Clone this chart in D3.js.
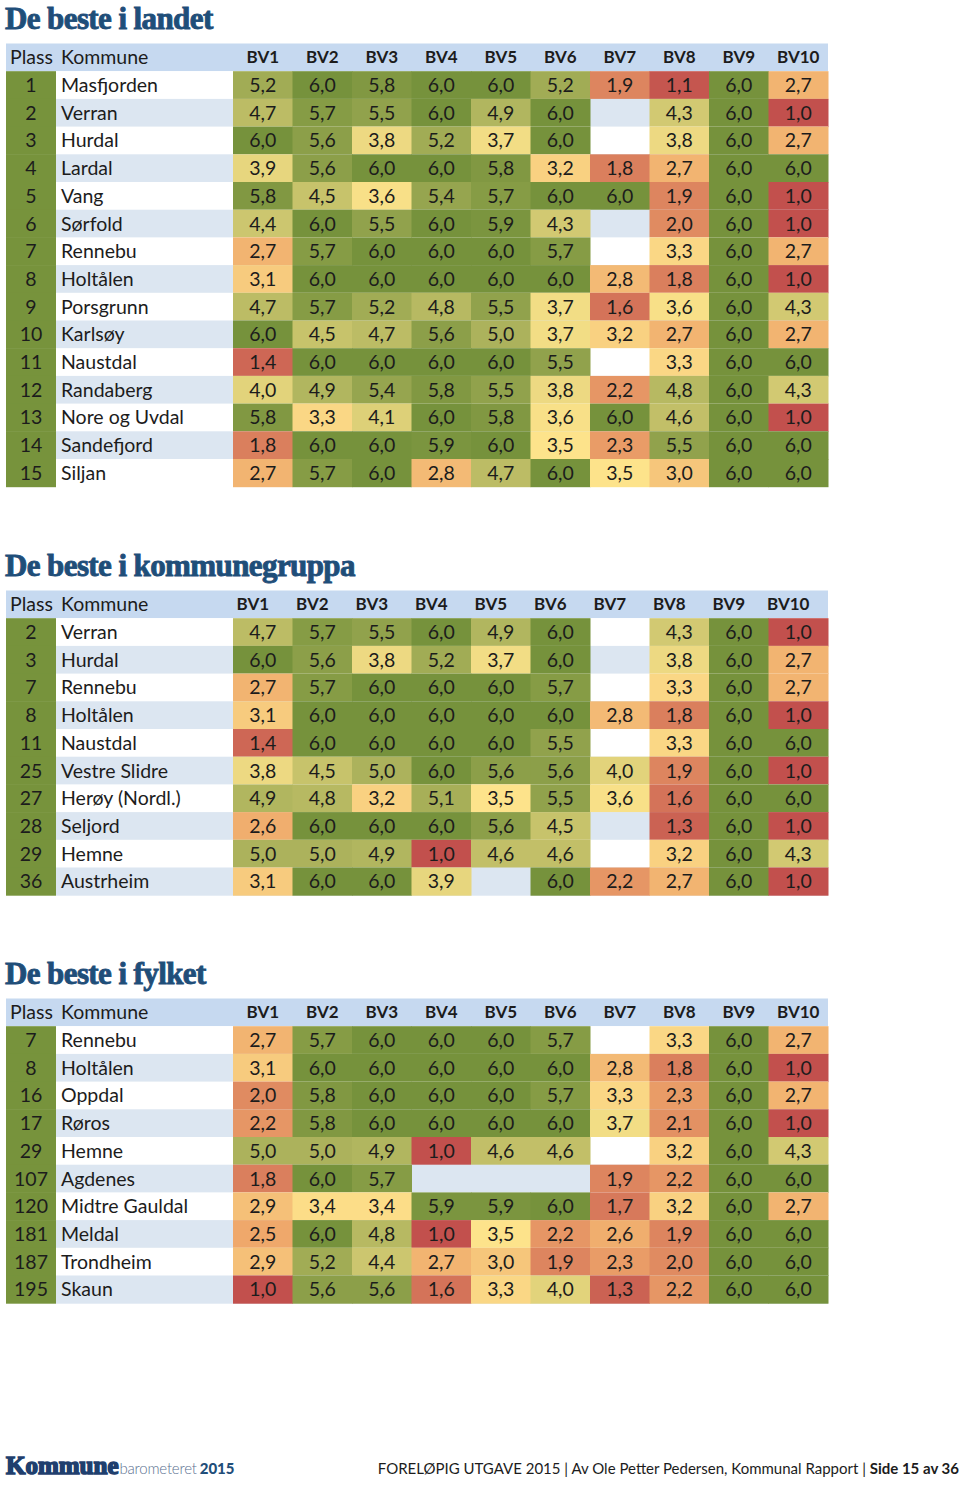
<!DOCTYPE html>
<html>
<head>
<meta charset="utf-8">
<script src="https://cdn.jsdelivr.net/npm/d3@7"></script>
<style>
  body { margin: 0; background: #fff; }
  svg text { font-family: Lato, "Open Sans", sans-serif; fill: #1c1c1c; }
  .title { font-family: "Liberation Serif", "DejaVu Serif", serif; font-weight: bold; fill: #1f4e79; stroke: #1f4e79; stroke-width: 0.9px; }
</style>
</head>
<body>
<svg id="chart" width="960" height="1486"></svg>
<script>
const bvKeys = ["BV1", "BV2", "BV3", "BV4", "BV5", "BV6", "BV7", "BV8", "BV9", "BV10"];

// De beste i landet
const landetPlass = [1, 2, 3, 4, 5, 6, 7, 8, 9, 10, 11, 12, 13, 14, 15];
const landetKommune = ["Masfjorden", "Verran", "Hurdal", "Lardal", "Vang", "Sørfold", "Rennebu", "Holtålen",
  "Porsgrunn", "Karlsøy", "Naustdal", "Randaberg", "Nore og Uvdal", "Sandefjord", "Siljan"];
const landetValues = [
  [5.2, 6.0, 5.8, 6.0, 6.0, 5.2, 1.9, 1.1, 6.0, 2.7],
  [4.7, 5.7, 5.5, 6.0, 4.9, 6.0, null, 4.3, 6.0, 1.0],
  [6.0, 5.6, 3.8, 5.2, 3.7, 6.0, null, 3.8, 6.0, 2.7],
  [3.9, 5.6, 6.0, 6.0, 5.8, 3.2, 1.8, 2.7, 6.0, 6.0],
  [5.8, 4.5, 3.6, 5.4, 5.7, 6.0, 6.0, 1.9, 6.0, 1.0],
  [4.4, 6.0, 5.5, 6.0, 5.9, 4.3, null, 2.0, 6.0, 1.0],
  [2.7, 5.7, 6.0, 6.0, 6.0, 5.7, null, 3.3, 6.0, 2.7],
  [3.1, 6.0, 6.0, 6.0, 6.0, 6.0, 2.8, 1.8, 6.0, 1.0],
  [4.7, 5.7, 5.2, 4.8, 5.5, 3.7, 1.6, 3.6, 6.0, 4.3],
  [6.0, 4.5, 4.7, 5.6, 5.0, 3.7, 3.2, 2.7, 6.0, 2.7],
  [1.4, 6.0, 6.0, 6.0, 6.0, 5.5, null, 3.3, 6.0, 6.0],
  [4.0, 4.9, 5.4, 5.8, 5.5, 3.8, 2.2, 4.8, 6.0, 4.3],
  [5.8, 3.3, 4.1, 6.0, 5.8, 3.6, 6.0, 4.6, 6.0, 1.0],
  [1.8, 6.0, 6.0, 5.9, 6.0, 3.5, 2.3, 5.5, 6.0, 6.0],
  [2.7, 5.7, 6.0, 2.8, 4.7, 6.0, 3.5, 3.0, 6.0, 6.0]
];

// De beste i kommunegruppa
const gruppePlass = [2, 3, 7, 8, 11, 25, 27, 28, 29, 36];
const gruppeKommune = ["Verran", "Hurdal", "Rennebu", "Holtålen", "Naustdal", "Vestre Slidre",
  "Herøy (Nordl.)", "Seljord", "Hemne", "Austrheim"];
const gruppeValues = [
  [4.7, 5.7, 5.5, 6.0, 4.9, 6.0, null, 4.3, 6.0, 1.0],
  [6.0, 5.6, 3.8, 5.2, 3.7, 6.0, null, 3.8, 6.0, 2.7],
  [2.7, 5.7, 6.0, 6.0, 6.0, 5.7, null, 3.3, 6.0, 2.7],
  [3.1, 6.0, 6.0, 6.0, 6.0, 6.0, 2.8, 1.8, 6.0, 1.0],
  [1.4, 6.0, 6.0, 6.0, 6.0, 5.5, null, 3.3, 6.0, 6.0],
  [3.8, 4.5, 5.0, 6.0, 5.6, 5.6, 4.0, 1.9, 6.0, 1.0],
  [4.9, 4.8, 3.2, 5.1, 3.5, 5.5, 3.6, 1.6, 6.0, 6.0],
  [2.6, 6.0, 6.0, 6.0, 5.6, 4.5, null, 1.3, 6.0, 1.0],
  [5.0, 5.0, 4.9, 1.0, 4.6, 4.6, null, 3.2, 6.0, 4.3],
  [3.1, 6.0, 6.0, 3.9, null, 6.0, 2.2, 2.7, 6.0, 1.0]
];

// De beste i fylket
const fylketPlass = [7, 8, 16, 17, 29, 107, 120, 181, 187, 195];
const fylketKommune = ["Rennebu", "Holtålen", "Oppdal", "Røros", "Hemne", "Agdenes", "Midtre Gauldal",
  "Meldal", "Trondheim", "Skaun"];
const fylketValues = [
  [2.7, 5.7, 6.0, 6.0, 6.0, 5.7, null, 3.3, 6.0, 2.7],
  [3.1, 6.0, 6.0, 6.0, 6.0, 6.0, 2.8, 1.8, 6.0, 1.0],
  [2.0, 5.8, 6.0, 6.0, 6.0, 5.7, 3.3, 2.3, 6.0, 2.7],
  [2.2, 5.8, 6.0, 6.0, 6.0, 6.0, 3.7, 2.1, 6.0, 1.0],
  [5.0, 5.0, 4.9, 1.0, 4.6, 4.6, null, 3.2, 6.0, 4.3],
  [1.8, 6.0, 5.7, null, null, null, 1.9, 2.2, 6.0, 6.0],
  [2.9, 3.4, 3.4, 5.9, 5.9, 6.0, 1.7, 3.2, 6.0, 2.7],
  [2.5, 6.0, 4.8, 1.0, 3.5, 2.2, 2.6, 1.9, 6.0, 6.0],
  [2.9, 5.2, 4.4, 2.7, 3.0, 1.9, 2.3, 2.0, 6.0, 6.0],
  [1.0, 5.6, 5.6, 1.6, 3.3, 4.0, 1.3, 2.2, 6.0, 6.0]
];

const svg = d3.select("#chart");
const rowH = 27.7;
const fmt = v => d3.format(".1f")(v).replace(".", ",");

const color = d3.scaleLinear()
  .domain([1, 2.5, 3.5, 6])
  .range(["#c2504d", "#efa86b", "#fde38b", "#76923c"]);

const x = d3.scaleBand().domain(bvKeys).range([233, 828]);

function drawTable(title, titleY, top, plass, kommune, values, headShift) {
  svg.append("text").attr("class", "title")
    .attr("x", 5).attr("y", titleY)
    .style("font-size", "31px").style("letter-spacing", "-0.6px")
    .text(title);

  // header
  svg.append("rect").attr("x", 6).attr("y", top).attr("width", 822).attr("height", rowH)
    .attr("fill", "#c6d9f0");
  svg.append("text").attr("x", 10).attr("y", top + rowH / 2 + 7)
    .style("font-size", "19.5px").text("Plass");
  svg.append("text").attr("x", 61).attr("y", top + rowH / 2 + 7)
    .style("font-size", "19.5px").text("Kommune");
  svg.selectAll(null).data(bvKeys).join("text")
    .attr("x", d => x(d) + x.bandwidth() / 2 + headShift)
    .attr("y", top + rowH / 2 + 6)
    .attr("text-anchor", "middle")
    .style("font-size", "17px").style("font-weight", "bold")
    .text(d => d);

  const y = d3.scaleBand().domain(d3.range(plass.length))
    .range([top + rowH, top + rowH * (plass.length + 1)]);

  const rows = svg.append("g").selectAll("g").data(values).join("g")
    .attr("transform", (d, i) => `translate(0,${y(i)})`);

  const stripe = i => (i % 2 === 0 ? "#ffffff" : "#dce6f1");

  rows.append("rect").attr("x", 56).attr("width", x.range()[1] - 56).attr("height", y.bandwidth() + 0.5)
    .attr("fill", (d, i) => stripe(i));
  rows.append("rect").attr("x", 6).attr("width", 50).attr("height", y.bandwidth() + 0.5)
    .attr("fill", "#77933c");
  rows.append("text").attr("x", 31).attr("y", rowH / 2 + 7)
    .attr("text-anchor", "middle").style("font-size", "19.5px")
    .text((d, i) => plass[i]);
  rows.append("text").attr("x", 61).attr("y", rowH / 2 + 7)
    .style("font-size", "19.5px")
    .text((d, i) => kommune[i]);

  rows.each(function (vals) {
    const g = d3.select(this);
    const cells = vals.map((v, j) => ({ key: bvKeys[j], v })).filter(c => c.v !== null);
    g.selectAll("rect.cell").data(cells).join("rect").attr("class", "cell")
      .attr("x", c => x(c.key)).attr("width", x.bandwidth() + 0.5)
      .attr("height", y.bandwidth() + 0.5)
      .attr("fill", c => color(c.v));
    g.selectAll("text.val").data(cells).join("text").attr("class", "val")
      .attr("x", c => x(c.key) + x.bandwidth() / 2).attr("y", rowH / 2 + 7)
      .attr("text-anchor", "middle").style("font-size", "19.5px")
      .text(c => fmt(c.v));
  });
}

drawTable("De beste i landet", 29, 43.5, landetPlass, landetKommune, landetValues, 0);
drawTable("De beste i kommunegruppa", 576, 590.5, gruppePlass, gruppeKommune, gruppeValues, -10);
drawTable("De beste i fylket", 984, 998.5, fylketPlass, fylketKommune, fylketValues, 0);

// footer
const foot = svg.append("text").attr("x", 6).attr("y", 1474);
foot.append("tspan").attr("class", "title")
  .style("font-size", "25px").style("letter-spacing", "0px").style("stroke-width", "1.6px")
  .style("fill", "#1f3f6e").style("stroke", "#1f3f6e")
  .text("Kommune");
foot.append("tspan").attr("dx", 1).style("font-size", "15px").style("fill", "#5a6f8f").style("font-weight", "300")
  .style("letter-spacing", "-0.2px")
  .text("barometeret");
foot.append("tspan").attr("dx", 3).style("font-size", "15px").style("fill", "#1f4e79").style("font-weight", "900")
  .text("2015");

const right = svg.append("text").attr("x", 959).attr("y", 1474).attr("text-anchor", "end")
  .style("font-size", "15px");
right.append("tspan").text("FORELØPIG UTGAVE 2015 | Av Ole Petter Pedersen, Kommunal Rapport | ");
right.append("tspan").style("font-weight", "bold").text("Side 15 av 36");
</script>
</body>
</html>
